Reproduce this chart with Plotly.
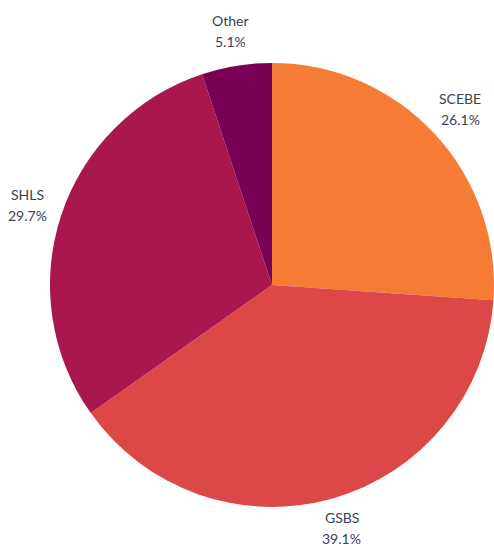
import math
import plotly.graph_objects as go

labels = ["SCEBE", "GSBS", "SHLS", "Other"]
values = [26.1, 39.1, 29.7, 5.1]
colors = ["#F47C35", "#DC4848", "#A9174F", "#7A0056"]

W, H = 494, 550
dom_x = [0.1012, 1.0]
dom_y = [0.073, 0.891]

fig = go.Figure(go.Pie(
    labels=labels, values=values, sort=False, direction="clockwise", rotation=0,
    marker=dict(colors=colors, line=dict(width=0)),
    textinfo="none", hoverinfo="label+percent", showlegend=False,
    domain=dict(x=dom_x, y=dom_y),
))

# label positions derived from slice mid-angles
cx = (dom_x[0] + dom_x[1]) / 2 * W
cy = (1 - (dom_y[0] + dom_y[1]) / 2) * H
r = min((dom_x[1] - dom_x[0]) * W, (dom_y[1] - dom_y[0]) * H) / 2
total = sum(values)
cum = 0
annotations = []
font = dict(family="Lato, sans-serif", size=14, color="#3B4256")
for lab, v in zip(labels, values):
    mid = (cum + v / 2) / total * 2 * math.pi
    cum += v
    px = cx + 1.16 * r * math.sin(mid)
    py = min(cy - 1.16 * r * math.cos(mid), H - 22)
    pct = f"{v / total * 100:.1f}%"
    annotations.append(dict(x=px / W, y=1 - py / H, xref="paper", yref="paper",
                            text=lab, showarrow=False, font=font, yshift=10.5,
                            xanchor="center", yanchor="middle"))
    annotations.append(dict(x=px / W, y=1 - py / H, xref="paper", yref="paper",
                            text=pct, showarrow=False, font=font, yshift=-10.5,
                            xanchor="center", yanchor="middle"))

fig.update_layout(width=W, height=H, margin=dict(l=0, r=0, t=0, b=0),
                  paper_bgcolor="white", plot_bgcolor="white",
                  annotations=annotations)
fig.write_html("out.html", config={"displayModeBar": False})

with open("out.html", encoding="utf-8") as f:
    html = f.read()
html = html.replace("<body>", '<body style="margin:0;overflow:hidden">', 1)
with open("out.html", "w", encoding="utf-8") as f:
    f.write(html)
